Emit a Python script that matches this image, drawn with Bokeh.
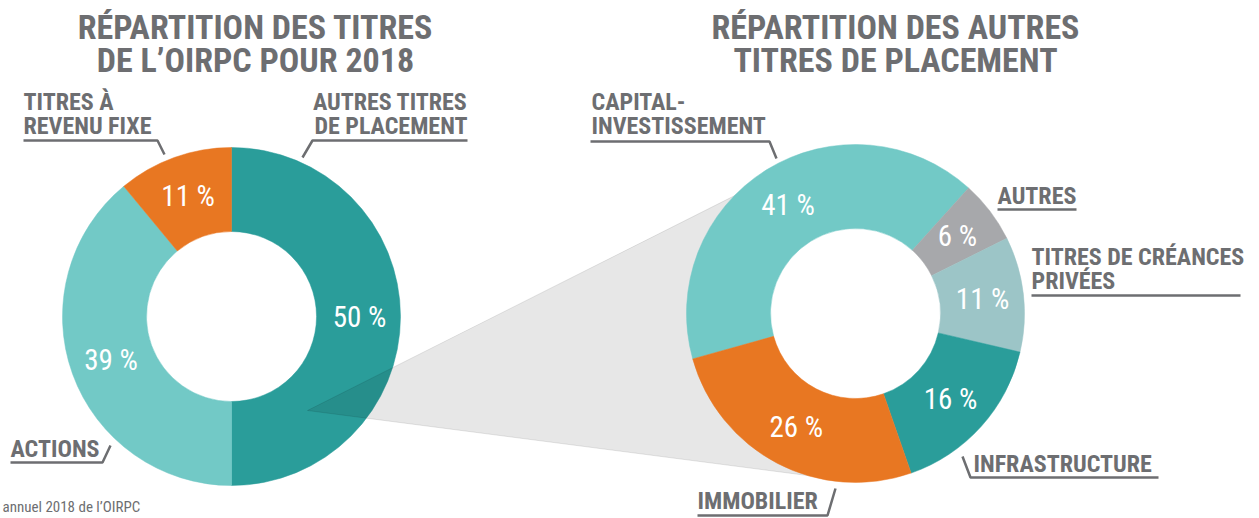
import math
from bokeh.plotting import figure
from bokeh.models import Range1d, ColumnDataSource
from bokeh.core.properties import value
from bokeh.embed import file_html
from bokeh.resources import INLINE

# ---------------- data ----------------
left_categories = ["Autres titres de placement", "Actions", "Titres à revenu fixe"]
left_values = [50, 39, 11]
left_colors = ["#2a9d9a", "#72c9c6", "#e87722"]

right_categories = ["Capital-investissement", "Autres", "Titres de créances privées",
                    "Infrastructure", "Immobilier"]
right_values = [41, 6, 11, 16, 26]
right_colors = ["#72c9c6", "#a7a8ab", "#9cc5c7", "#2a9d9a", "#e87722"]

left_title = ["RÉPARTITION DES TITRES", "DE L’OIRPC POUR 2018"]
right_title = ["RÉPARTITION DES AUTRES", "TITRES DE PLACEMENT"]
source_note = "annuel 2018 de l’OIRPC"

# ---------------- layout ----------------
W, H = 1259, 518
TEXT = "#6d6e71"
FONT = "Roboto Condensed"
BASE_SHIFT = 0.33  # bokeh alphabetic baseline sits ~0.33em low


def Y(y):
    return H - y


def YB(y, size):
    # baseline target y (px from top) compensated for rendering offset
    return H - (y - BASE_SHIFT * size)


p = figure(width=W, height=H, x_range=Range1d(0, W), y_range=Range1d(0, H),
           output_backend="svg", toolbar_location=None, min_border=0,
           x_axis_type=None, y_axis_type=None)
p.grid.visible = False
p.outline_line_color = None
p.background_fill_color = "white"
p.border_fill_color = "white"


def donut(cx, cy, values, colors, start_cw, r_in, r_out, r_lab):
    total = float(sum(values))
    a = start_cw
    starts, ends, lx, ly, labs = [], [], [], [], []
    for v in values:
        b = a + 360.0 * v / total
        starts.append(math.radians(90 - b))
        ends.append(math.radians(90 - a))
        m = math.radians((a + b) / 2)
        lx.append(cx + r_lab * math.sin(m))
        ly.append(Y(cy) + r_lab * math.cos(m))
        labs.append(f"{v} %")
        a = b
    src = ColumnDataSource(dict(start=starts, end=ends, color=colors))
    p.annular_wedge(x=cx, y=Y(cy), inner_radius=r_in, outer_radius=r_out,
                    start_angle="start", end_angle="end", direction="anticlock",
                    fill_color="color", line_color="color", line_width=0.5, source=src)
    return lx, ly, labs


LCX, LCY = 231, 316
RCX, RCY = 855, 313
R_IN, R_OUT, R_LAB = 85, 169, 128

l_lx, l_ly, l_labs = donut(LCX, LCY, left_values, left_colors, 0, R_IN, R_OUT, R_LAB)

# projection wedge
px = [307, 800, RCX, 830]
py = [Y(410), Y(162), Y(RCY), Y(478)]
p.patch(px, py, fill_color="black", fill_alpha=0.095, line_color="black", line_alpha=0.1,
        line_width=1)
p.circle(x=RCX, y=Y(RCY), radius=R_IN + 1, fill_color="white", line_color=None)

r_lx, r_ly, r_labs = donut(RCX, RCY, right_values, right_colors, -105.6, R_IN, R_OUT, R_LAB)

# percent labels
p.text(x=l_lx + r_lx, y=l_ly + r_ly, text=l_labs + r_labs, text_color="white",
       text_font=value(FONT), text_font_size="29px", text_align="center",
       text_baseline="middle")

# titles
TS = 34
for cx, lines in ((255, left_title), (895, right_title)):
    p.text(x=[cx, cx], y=[YB(38, TS), YB(71, TS)], text=lines, text_color=TEXT,
           text_font=value(FONT), text_font_style="bold", text_font_size=f"{TS}px",
           text_align="center", text_baseline="alphabetic")

# category labels (text lines, anchor x, baseline y, align)
LS = 24
labels = [
    (["TITRES À", "REVENU FIXE"], 23, [109, 133], "left"),
    (["AUTRES TITRES", "DE PLACEMENT"], 467, [109, 133], "right"),
    (["ACTIONS"], 10, [456], "left"),
    (["CAPITAL-", "INVESTISSEMENT"], 591, [109, 133], "left"),
    (["AUTRES"], 997, [203], "left"),
    (["TITRES DE CRÉANCES", "PRIVÉES"], 1031, [264, 288], "left"),
    (["INFRASTRUCTURE"], 973, [471], "left"),
    (["IMMOBILIER"], 697, [508], "left"),
]
for lines, x, ys, al in labels:
    p.text(x=[x] * len(lines), y=[YB(v, LS) for v in ys], text=lines, text_color=TEXT,
           text_font=value(FONT), text_font_style="bold", text_font_size=f"{LS}px",
           text_align=al, text_baseline="alphabetic")

leaders = [
    [(23, 140), (157, 140), (164, 154)],
    [(467, 140), (312, 140), (302, 157)],
    [(10, 462), (102, 462), (110, 445)],
    [(590, 141), (769, 141), (776, 158)],
    [(997, 209), (1076, 209)],
    [(1031, 295), (1240, 295)],
    [(962, 456), (970, 477), (1158, 477)],
    [(697, 515), (827, 515), (835, 488)],
]
p.multi_line(xs=[[a for a, b in L] for L in leaders],
             ys=[[Y(b) for a, b in L] for L in leaders],
             line_color=TEXT, line_width=2.5)

NS = 15
p.text(x=[2], y=[YB(511, NS)], text=[source_note], text_color=TEXT,
       text_font=value(FONT), text_font_size=f"{NS}px",
       text_align="left", text_baseline="alphabetic")

open("out.html", "w").write(file_html(p, INLINE))
